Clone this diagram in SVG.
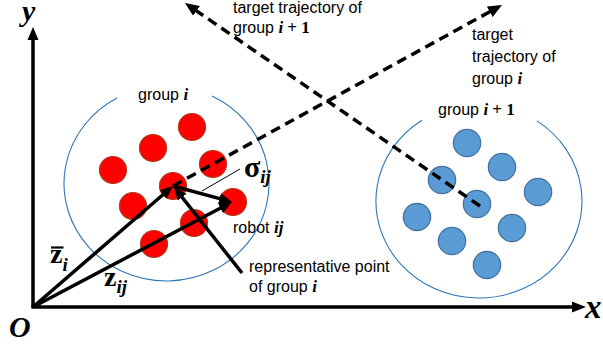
<svg xmlns="http://www.w3.org/2000/svg" width="603" height="349" viewBox="0 0 603 349">
<style>
.t{font-family:"Liberation Sans",Arial,sans-serif;font-size:16px;fill:#000}
.m{font-family:"Liberation Serif","Times New Roman",serif;font-weight:bold;font-style:italic}
.mb{font-family:"Liberation Serif","Times New Roman",serif;font-weight:bold}
.red{fill:#FF0000;stroke:#B0381C;stroke-width:1.2}
.blue{fill:#5B9BD5;stroke:#41719C;stroke-width:1.2}
.grp{fill:none;stroke:#2E75B6;stroke-width:1.1}
.sol{stroke:#000;stroke-width:3.5;fill:none}
.dash{stroke:#000;stroke-width:3.5;fill:none;stroke-dasharray:10 6}
</style>
<defs>
<marker id="ah" markerUnits="userSpaceOnUse" markerWidth="16" markerHeight="14" refX="6" refY="6" orient="auto">
<path d="M0,0 L14,6 L0,12 z" fill="#000"/>
</marker>
<marker id="ahs" markerUnits="userSpaceOnUse" markerWidth="15" markerHeight="13" refX="5" refY="5.5" orient="auto">
<path d="M0,0 L13,5.5 L0,11 z" fill="#000"/>
</marker>
</defs>

<g id="axes">
<line class="sol" x1="33" y1="307" x2="33" y2="38"/>
<polygon points="33,27 27.5,40 38.5,40" fill="#000"/>
<line class="sol" x1="31.3" y1="307" x2="574" y2="307"/>
<polygon points="586,307 572,301.5 572,312.5" fill="#000"/>
<text class="m" x="22" y="21" font-size="30">y</text>
<text class="m" x="585" y="318" font-size="33">x</text>
<text class="m" x="9" y="337" font-size="30">O</text>
</g>

<g id="group-i">
<path class="grp" d="M117,98.1 A102.5,97.5 0 1 0 212,96.1"/>
<text class="t" x="138" y="100">group <tspan class="m" font-size="17">i</tspan></text>
<circle class="red" cx="192" cy="127" r="13.5"/>
<circle class="red" cx="153" cy="148" r="13.5"/>
<circle class="red" cx="213" cy="164" r="13.5"/>
<circle class="red" cx="113" cy="170" r="13.5"/>
<circle class="red" cx="173" cy="186" r="13.5"/>
<circle class="red" cx="133" cy="206" r="13.5"/>
<circle class="red" cx="233" cy="202" r="13.5"/>
<circle class="red" cx="194" cy="223" r="13.5"/>
<circle class="red" cx="154" cy="244" r="13.5"/>
</g>

<g id="group-i1">
<path class="grp" d="M422,120.2 A103,97 0 1 0 537,120.9"/>
<text class="t" x="438" y="115">group <tspan class="m" font-size="17">i</tspan><tspan class="mb" font-size="17"> + 1</tspan></text>
<circle class="blue" cx="467" cy="143" r="13.7"/>
<circle class="blue" cx="502" cy="167" r="13.7"/>
<circle class="blue" cx="442" cy="180" r="13.7"/>
<circle class="blue" cx="538" cy="192" r="13.7"/>
<circle class="blue" cx="477" cy="204" r="13.7"/>
<circle class="blue" cx="417" cy="217" r="13.7"/>
<circle class="blue" cx="512" cy="228" r="13.7"/>
<circle class="blue" cx="452" cy="241" r="13.7"/>
<circle class="blue" cx="487" cy="265" r="13.7"/>
</g>

<g id="connectors">
<line class="dash" x1="173" y1="186" x2="495" y2="8.9" marker-end="url(#ah)"/>
<line class="dash" x1="480" y1="206" x2="191.6" y2="7.5" marker-end="url(#ah)"/>
<line class="sol" x1="33" y1="307" x2="166.9" y2="191.2" marker-end="url(#ahs)"/>
<line class="sol" x1="33" y1="307" x2="224.9" y2="205.7" marker-end="url(#ahs)"/>
<line class="sol" x1="173" y1="186" x2="224.3" y2="199.9" marker-end="url(#ahs)"/>
<line class="sol" stroke-width="3" x1="242" y1="273" x2="179" y2="193.3" marker-end="url(#ahs)"/>
<line stroke="#000" stroke-width="1" x1="202" y1="191" x2="240" y2="169"/>
</g>

<g id="labels">
<text class="t" x="233" y="13">target trajectory of</text>
<text class="t" x="233" y="33">group <tspan class="m" font-size="17">i</tspan><tspan class="mb" font-size="17"> + 1</tspan></text>
<text class="t" x="472" y="39.5">target</text>
<text class="t" x="472" y="61.5">trajectory of</text>
<text class="t" x="472" y="83.5">group <tspan class="m" font-size="17">i</tspan></text>
<text class="mb" x="244" y="177" font-size="30">σ<tspan class="m" font-size="19" dy="6">ij</tspan></text>
<text class="t" x="233" y="233">robot <tspan class="m" font-size="17">ij</tspan></text>
<text class="t" x="249" y="272">representative point</text>
<text class="t" x="249" y="292">of group <tspan class="m" font-size="17">i</tspan></text>
<text class="mb" x="50" y="263" font-size="28">z<tspan class="m" font-size="19" dy="8">i</tspan></text>
<line x1="51" y1="247.5" x2="63.5" y2="247.5" stroke="#000" stroke-width="2.2"/>
<text class="mb" x="104" y="286" font-size="28">z<tspan class="m" font-size="19" dy="7">ij</tspan></text>
</g>
</svg>
